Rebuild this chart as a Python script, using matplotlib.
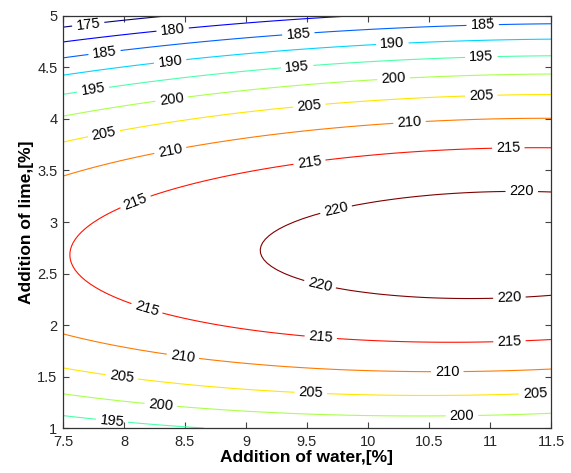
import numpy as np
import matplotlib
matplotlib.use("Agg")
import matplotlib.pyplot as plt

plt.rcParams['font.family'] = ['Liberation Sans', 'DejaVu Sans']

# second-order response model: strength vs water (x) and lime (y)
b0 = 100.064
b_water = 12.016
b_lime = 40.221
b_water2 = -0.601
b_lime2 = -8.13
b_water_lime = 0.4472

water_range = [7.5, 11.5]
lime_range = [1.0, 5.0]
levels = [175, 180, 185, 190, 195, 200, 205, 210, 215, 220]

# where the inline labels sit (water, lime)
label_spots = [
    (7.71, 4.89), (8.40, 4.85),
    (7.84, 4.65), (9.43, 4.81), (10.94, 4.90),
    (8.38, 4.54), (10.20, 4.72),
    (7.75, 4.26), (9.42, 4.50), (10.93, 4.56),
    (8.39, 4.20), (10.21, 4.38),
    (7.84, 3.83), (9.52, 4.11), (10.93, 4.18),
    (8.38, 3.69), (10.34, 3.97),
    (8.10, 3.18), (9.52, 3.58), (11.15, 3.71),
    (9.74, 3.11), (11.26, 3.30),
    (8.18, 2.13), (9.60, 2.36), (11.16, 2.23),
    (9.61, 1.84), (11.16, 1.82),
    (8.48, 1.67), (10.65, 1.54),
    (7.98, 1.47), (9.53, 1.31), (11.37, 1.31),
    (8.30, 1.20), (10.77, 1.13),
    (7.90, 1.05),
]

x = np.linspace(water_range[0], water_range[1], 121)
y = np.linspace(lime_range[0], lime_range[1], 121)
X, Y = np.meshgrid(x, y)
Z = (b0 + b_water * X + b_lime * Y + b_water2 * X**2
     + b_lime2 * Y**2 + b_water_lime * X * Y)

fig = plt.figure(figsize=(5.71, 4.73), dpi=100)
ax = fig.add_axes([0.1103, 0.0951, 0.8547, 0.8711])

cs = ax.contour(X, Y, Z, levels=levels, cmap='jet', linewidths=0.8)
labels = ax.clabel(cs, inline=True, fmt='%d', fontsize=10.5, colors='k',
                   manual=label_spots, inline_spacing=4)
for t in labels:
    t.set_clip_on(True)
    t.set_clip_box(ax.bbox)

ax.set_xlim(water_range)
ax.set_ylim(lime_range)
ax.set_xticks(np.arange(7.5, 11.51, 0.5))
ax.set_yticks(np.arange(1, 5.01, 0.5))
ax.set_xticklabels(['7.5', '8', '8.5', '9', '9.5', '10', '10.5', '11', '11.5'])
ax.set_yticklabels(['1', '1.5', '2', '2.5', '3', '3.5', '4', '4.5', '5'])
ax.tick_params(direction='in', top=True, right=True, length=4, width=0.8,
               labelsize=10.5, colors='#444444', labelcolor='#262626')
ax.tick_params(axis='x', pad=5)
ax.tick_params(axis='y', pad=4)
for s in ax.spines.values():
    s.set_linewidth(0.9)
    s.set_color('#333333')

ax.set_xlabel('Addition of water,[%]', fontsize=12.5, fontweight='bold', labelpad=1)
ax.set_ylabel('Addition of lime,[%]', fontsize=12.5, fontweight='bold', labelpad=2)

fig.savefig('out.png', dpi=100)
